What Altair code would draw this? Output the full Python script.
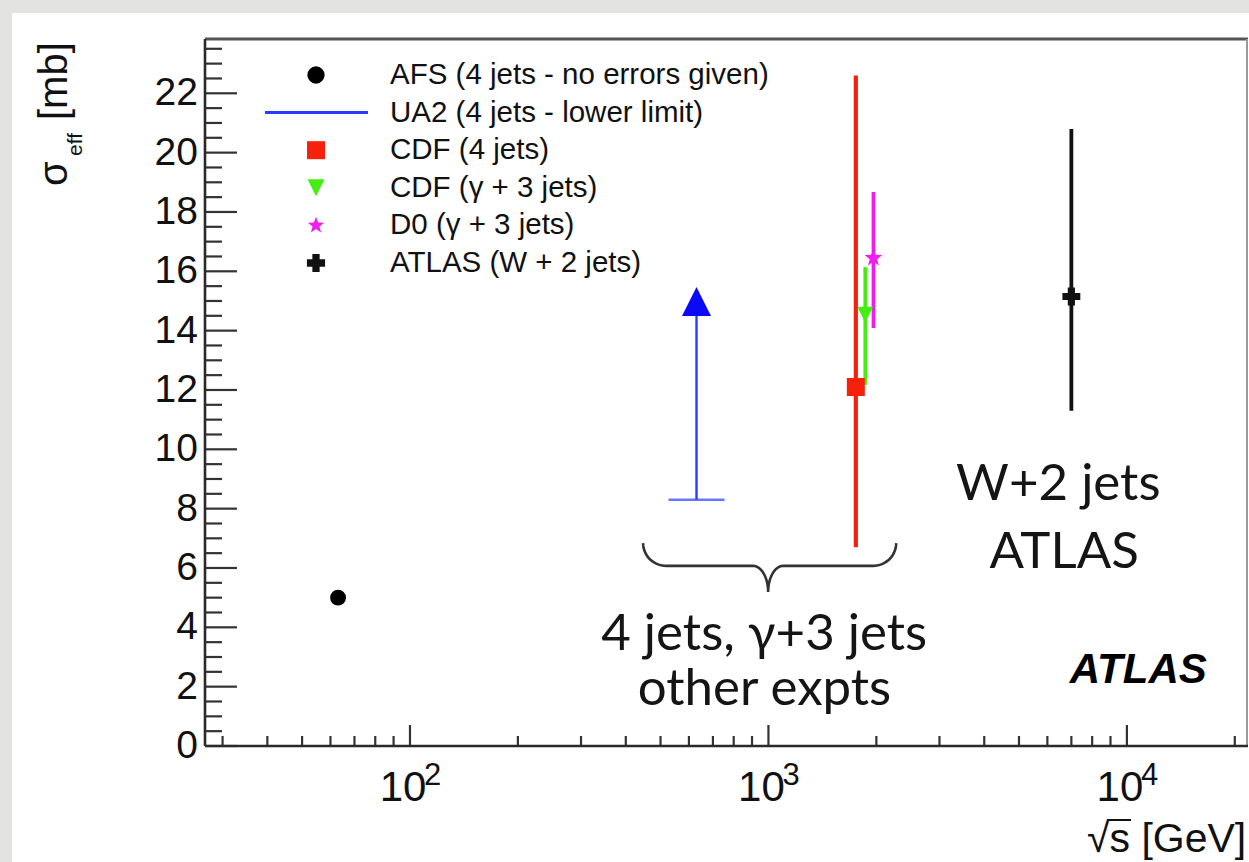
import math
import altair as alt
import pandas as pd

# ---------------- data ----------------
EXPT = ["AFS", "UA2", "CDF4", "CDFG", "D0", "ATLAS"]
SQRT_S = [63, 630, 1753, 1862, 1963, 7000]          # GeV
SIGMA = [5.0, 14.98, 12.1, 14.54, 16.45, 15.15]      # mb (UA2: arrow head)
ERR_LO = [5.0, 8.3, 6.7, 12.17, 14.09, 11.3]
ERR_HI = [5.0, 14.98, 22.6, 16.14, 18.67, 20.8]

LEGEND_LABELS = [
    "AFS (4 jets - no errors given)",
    "UA2 (4 jets - lower limit)",
    "CDF (4 jets)",
    "CDF (γ + 3 jets)",
    "D0 (γ + 3 jets)",
    "ATLAS (W + 2 jets)",
]

X_MAJOR = [100, 1000, 10000]
X_EXP = ["2", "3", "4"]
X_MINOR = [30, 40, 50, 60, 70, 80, 90,
           200, 300, 400, 500, 600, 700, 800, 900,
           2000, 3000, 4000, 5000, 6000, 7000, 8000, 9000, 20000]
Y_MAJOR = [0, 2, 4, 6, 8, 10, 12, 14, 16, 18, 20, 22]
Y_MINOR = [v / 2 for v in range(1, 48) if v % 4 != 0]

ANNOT_TEXT = ["W+2 jets", "ATLAS", "4 jets, γ+3 jets", "other expts"]
ANNOT_X = [6436, 6683, 973, 975]
ANNOT_Y = [8.29, 6.0, 3.24, 1.38]

BRACE_X = [447, 998, 2272]      # left tip, cusp, right tip
BRACE_Y = [6.84, 6.07, 5.19]    # tips, bar, cusp

# ---------------- layout ----------------
W, H = 1043, 707
RED, GREEN, MAGENTA, BLUE, BLUEL = "#f7200c", "#44ee11", "#f01cf0", "#0a0af5", "#2a3cff"
HELV = "Liberation Sans, Arial, Helvetica, sans-serif"
CAL = "Lato, Open Sans, sans-serif"

xscale = alt.Scale(type="log", domain=[26.8, 21770], nice=False)
yscale = alt.Scale(domain=[0, 23.83], nice=False, zero=False)


def X(field):
    return alt.X(field, type="quantitative", scale=xscale, axis=None)


def Y(field):
    return alt.Y(field, type="quantitative", scale=yscale, axis=None)


one = pd.DataFrame({"a": [0]})
df = pd.DataFrame({"expt": EXPT, "x": SQRT_S, "y": SIGMA, "lo": ERR_LO, "hi": ERR_HI})


def sel(name):
    return df[df.expt == name]


# star / triangle paths (unit box)
star_pts = []
for k in range(10):
    ang = math.radians(-90 + 36 * k)
    r = 1.0 if k % 2 == 0 else 0.42
    star_pts.append(f"{r*math.cos(ang):.3f},{r*math.sin(ang):.3f}")
STAR = "M" + "L".join(star_pts) + "Z"
TRI_UP = "M0,-1L-1,1L1,1Z"
TRI_DN = "M-1,-1L1,-1L0,1Z"

layers = []

# white panel
layers.append(alt.Chart(one).mark_rect(color="white").encode(
    x=alt.value(-193), x2=alt.value(W + 30), y=alt.value(-26), y2=alt.value(H + 160)))

# ticks (inside)
tick_col = "#333333"
layers.append(alt.Chart(pd.DataFrame({"v": Y_MAJOR})).mark_rule(color=tick_col, strokeWidth=2.2).encode(
    y=Y("v"), x=alt.value(0), x2=alt.value(32)))
layers.append(alt.Chart(pd.DataFrame({"v": Y_MINOR})).mark_rule(color=tick_col, strokeWidth=2.2).encode(
    y=Y("v"), x=alt.value(0), x2=alt.value(17)))
layers.append(alt.Chart(pd.DataFrame({"v": X_MAJOR})).mark_rule(color=tick_col, strokeWidth=2.2).encode(
    x=X("v"), y=alt.value(H), y2=alt.value(H - 21)))
layers.append(alt.Chart(pd.DataFrame({"v": X_MINOR})).mark_rule(color=tick_col, strokeWidth=2.2).encode(
    x=X("v"), y=alt.value(H), y2=alt.value(H - 10)))

# frame
layers.append(alt.Chart(one).mark_rule(color="#555555", strokeWidth=3).encode(
    x=alt.value(0), x2=alt.value(W), y=alt.value(0)))
layers.append(alt.Chart(one).mark_rule(color="#9a9a9a", strokeWidth=2).encode(
    x=alt.value(W - 1), y=alt.value(0), y2=alt.value(H)))
layers.append(alt.Chart(one).mark_rule(color="#2a2a2a", strokeWidth=2.6).encode(
    x=alt.value(0), y=alt.value(0), y2=alt.value(H)))
layers.append(alt.Chart(one).mark_rule(color="#2a2a2a", strokeWidth=2.6).encode(
    x=alt.value(0), x2=alt.value(W), y=alt.value(H)))

# tick labels
layers.append(alt.Chart(pd.DataFrame({"v": Y_MAJOR})).mark_text(
    align="right", baseline="middle", font=HELV, fontSize=39, color="#111", dx=-7).encode(
    y=Y("v"), x=alt.value(0), text="v:Q"))
xl = pd.DataFrame({"v": X_MAJOR, "e": X_EXP})
layers.append(alt.Chart(xl).mark_text(
    align="center", baseline="alphabetic", font=HELV, fontSize=42, color="#111", dx=-7).encode(
    x=X("v"), y=alt.value(762), text=alt.value("10")))
layers.append(alt.Chart(xl).mark_text(
    align="left", baseline="alphabetic", font=HELV, fontSize=31, color="#111", dx=14).encode(
    x=X("v"), y=alt.value(746), text="e:N"))

# axis titles
layers.append(alt.Chart(one).mark_text(align="left", baseline="alphabetic", angle=270, font=HELV,
                                       fontSize=40, color="#111").encode(
    x=alt.value(-138), y=alt.value(147), text=alt.value("σ")))
layers.append(alt.Chart(one).mark_text(align="left", baseline="alphabetic", angle=270, font=HELV,
                                       fontSize=21, color="#111").encode(
    x=alt.value(-123), y=alt.value(117), text=alt.value("eff")))
layers.append(alt.Chart(one).mark_text(align="left", baseline="alphabetic", angle=270, font=HELV,
                                       fontSize=40, color="#111").encode(
    x=alt.value(-138), y=alt.value(81), text=alt.value("[mb]")))
layers.append(alt.Chart(one).mark_text(align="left", baseline="alphabetic", font=HELV,
                                       fontSize=41, color="#111").encode(
    x=alt.value(882), y=alt.value(813), text=alt.value("√s [GeV]")))
layers.append(alt.Chart(one).mark_rule(color="#111", strokeWidth=2).encode(
    x=alt.value(902), x2=alt.value(926), y=alt.value(781)))

# ---------------- data marks ----------------
# UA2 lower limit arrow
layers.append(alt.Chart(sel("UA2")).mark_rule(color=BLUEL, strokeWidth=2.4).encode(
    x=X("x"), y=Y("lo"), y2="hi:Q"))
layers.append(alt.Chart(sel("UA2")).mark_tick(orient="horizontal", size=56, thickness=2.4, color=BLUEL).encode(
    x=X("x"), y=Y("lo")))
layers.append(alt.Chart(sel("UA2")).mark_point(shape=TRI_UP, size=841, filled=True, opacity=1, color=BLUE).encode(
    x=X("x"), y=Y("y")))

# error bars
for name, col, sw in [("CDF4", RED, 4.2), ("CDFG", GREEN, 3.6), ("D0", MAGENTA, 3.6), ("ATLAS", "#111", 3.8)]:
    layers.append(alt.Chart(sel(name)).mark_rule(color=col, strokeWidth=sw).encode(
        x=X("x"), y=Y("lo"), y2="hi:Q"))

layers.append(alt.Chart(sel("AFS")).mark_point(shape="circle", size=250, filled=True, opacity=1, color="#000").encode(
    x=X("x"), y=Y("y")))
layers.append(alt.Chart(sel("CDF4")).mark_point(shape="square", size=324, filled=True, opacity=1, color=RED).encode(
    x=X("x"), y=Y("y")))
layers.append(alt.Chart(sel("CDFG")).mark_point(shape=TRI_DN, size=250, filled=True, opacity=1, color=GREEN).encode(
    x=X("x"), y=Y("y")))
layers.append(alt.Chart(sel("D0")).mark_point(shape=STAR, size=340, filled=True, opacity=1, color=MAGENTA).encode(
    x=X("x"), y=Y("y")))
layers.append(alt.Chart(sel("ATLAS")).mark_point(shape="cross", size=320, filled=True, opacity=1, color="#111").encode(
    x=X("x"), y=Y("y")))

# ---------------- legend ----------------
LX_MARK, LX_TEXT, LY0, LDY = 111, 185, 36, 37.6
leg = pd.DataFrame({"label": LEGEND_LABELS, "i": list(range(len(LEGEND_LABELS)))})
layers.append(alt.Chart(leg).transform_calculate(py=f"{LY0} + datum.i * {LDY}").mark_text(
    align="left", baseline="middle", font=HELV, fontSize=29.5, color="#111").encode(
    x=alt.value(LX_TEXT), y=alt.Y("py:Q", scale=None, axis=None), text="label:N"))
leg_marks = [("circle", 300, "#000"), (None, None, BLUEL), ("square", 324, RED),
             (TRI_DN, 289, GREEN), (STAR, 300, MAGENTA), ("cross", 330, "#111")]
for i, (shape, size, col) in enumerate(leg_marks):
    yy = LY0 + i * LDY
    if shape is None:
        layers.append(alt.Chart(one).mark_rule(color=col, strokeWidth=3).encode(
            x=alt.value(60), x2=alt.value(163), y=alt.value(yy)))
    else:
        layers.append(alt.Chart(one).mark_point(shape=shape, size=size, filled=True, opacity=1, color=col).encode(
            x=alt.value(LX_MARK), y=alt.value(yy)))

# ---------------- annotations ----------------
ann = pd.DataFrame({"t": ANNOT_TEXT, "x": ANNOT_X, "y": ANNOT_Y})
layers.append(alt.Chart(ann).mark_text(align="center", baseline="alphabetic", font=CAL, fontSize=51,
                                       color="#151515").encode(x=X("x"), y=Y("y"), text="t:N"))
layers.append(alt.Chart(pd.DataFrame({"x": [16700], "y": [2.12]})).mark_text(
    align="right", baseline="alphabetic", font=HELV, fontSize=42, fontWeight="bold", fontStyle="italic",
    color="#000").encode(x=X("x"), y=Y("y"), text=alt.value("ATLAS")))

# curly brace built from its three anchors
lx, mx, rx = (math.log10(v) for v in BRACE_X)
tipY, barY, cuspY = BRACE_Y
rh, rm = 0.065, 0.042
h, d = tipY - barY, barY - cuspY
pts = []
N = 14
for k in range(N + 1):
    t = (math.pi / 2) * k / N
    pts.append((lx + rh * (1 - math.cos(t)), barY + h * (1 - math.sin(t))))
for k in range(N + 1):
    t = (math.pi / 2) * k / N
    pts.append((mx - rm + rm * math.sin(t), barY - d * (1 - math.cos(t))))
for k in range(N, -1, -1):
    t = (math.pi / 2) * k / N
    pts.append((mx + rm - rm * math.sin(t), barY - d * (1 - math.cos(t))))
for k in range(N, -1, -1):
    t = (math.pi / 2) * k / N
    pts.append((rx - rh * (1 - math.cos(t)), barY + h * (1 - math.sin(t))))
brace = pd.DataFrame({"x": [10 ** p[0] for p in pts], "y": [p[1] for p in pts], "o": list(range(len(pts)))})
layers.append(alt.Chart(brace).mark_line(color="#333", strokeWidth=2.6).encode(
    x=X("x"), y=Y("y"), order="o:Q"))

chart = alt.layer(*layers).properties(
    width=W, height=H, background="#e3e3df",
    padding={"left": 205, "top": 39, "right": 1, "bottom": 116},
    autosize=alt.AutoSizeParams(type="none"),
).configure_view(stroke=None)

chart.save("out.html", embed_options={"renderer": "svg", "actions": False})
